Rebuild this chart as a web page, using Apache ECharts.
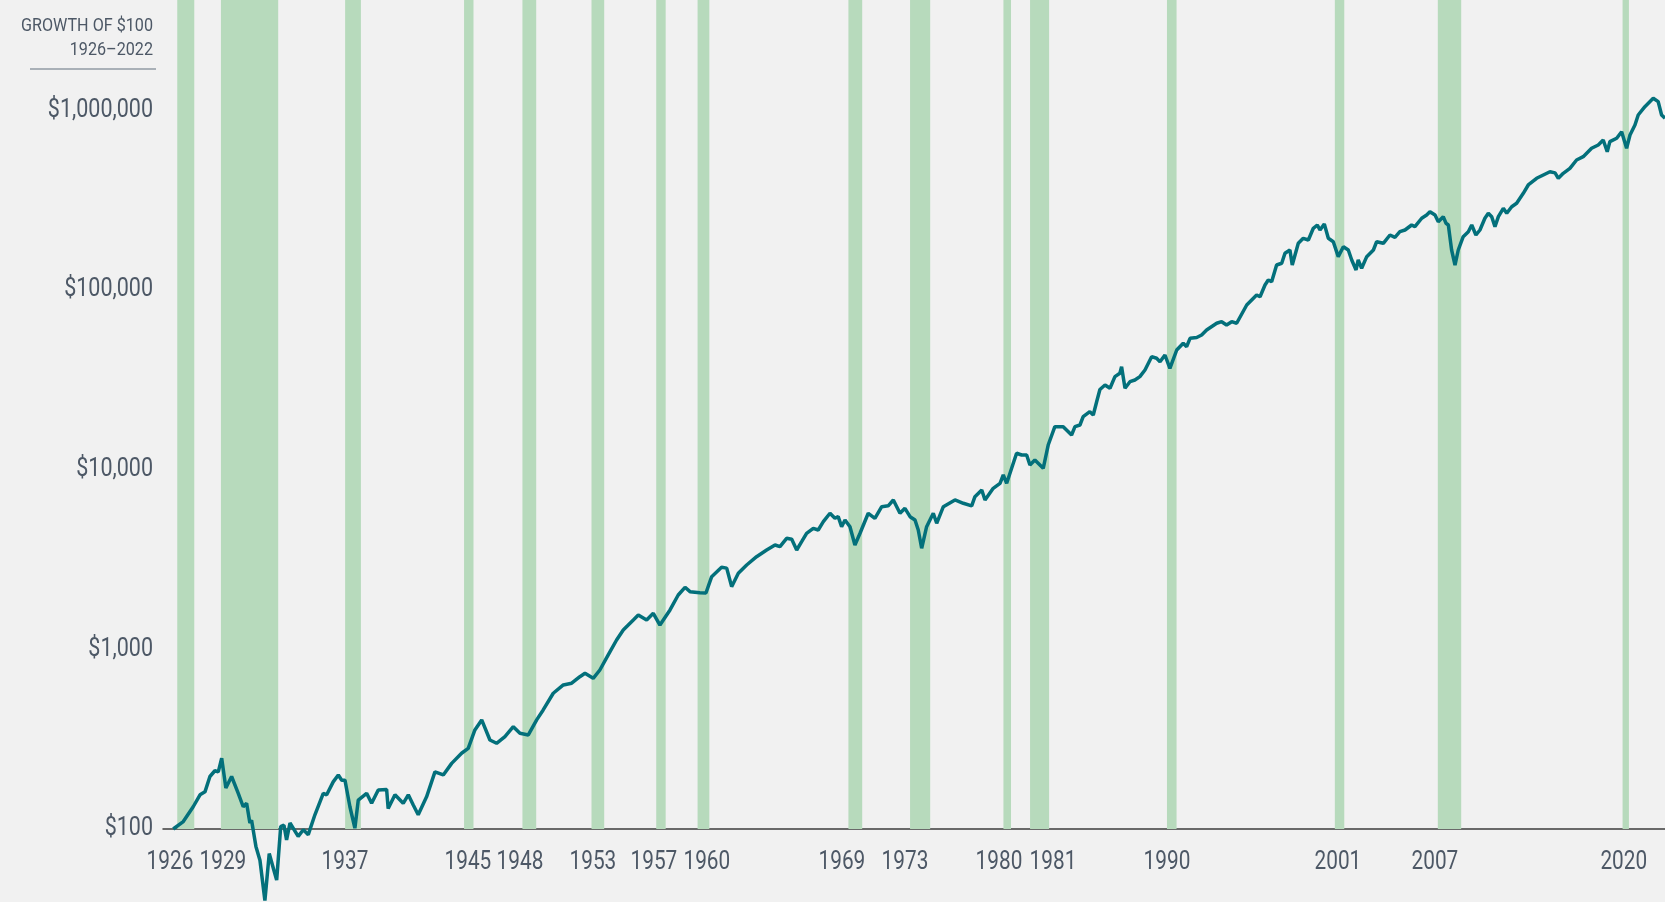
<!DOCTYPE html>
<html>
<head>
<meta charset="utf-8">
<script src="https://cdn.jsdelivr.net/npm/echarts@6/dist/echarts.min.js"></script>
<style>
  html, body { margin: 0; padding: 0; background: #f1f1f1; }
  #chart { width: 1665px; height: 902px; }
</style>
</head>
<body>
<div id="chart"></div>
<script>
// growth of $100 (decimal year, dollars)
const years = [
  1926.49, 1927.14, 1927.78, 1928.22, 1928.54, 1928.86, 1929.18, 1929.40, 1929.62, 1929.89,
  1930.26, 1930.69, 1931.01, 1931.23, 1931.44, 1931.55, 1931.83, 1932.09, 1932.41, 1932.69,
  1932.99, 1933.17, 1933.43, 1933.64, 1933.81, 1934.03, 1934.56, 1934.89, 1935.21, 1935.64,
  1936.18, 1936.40, 1936.82, 1937.15, 1937.37, 1937.58, 1937.90, 1938.22, 1938.44, 1938.98,
  1939.30, 1939.73, 1940.27, 1940.37, 1940.81, 1941.34, 1941.67, 1941.99, 1942.31, 1942.85,
  1943.39, 1943.93, 1944.47, 1945.11, 1945.54, 1945.97, 1946.41, 1946.94, 1947.37, 1947.91,
  1948.45, 1948.88, 1949.42, 1949.96, 1950.38, 1951.03, 1951.68, 1952.22, 1952.75, 1953.08,
  1953.61, 1954.04, 1954.58, 1955.12, 1955.55, 1956.20, 1956.52, 1957.06, 1957.49, 1957.92,
  1958.57, 1959.10, 1959.54, 1959.86, 1960.50, 1960.89, 1961.26, 1961.90, 1962.23, 1962.55,
  1962.98, 1963.52, 1964.16, 1964.81, 1965.35, 1965.67, 1966.10, 1966.43, 1966.75, 1967.07,
  1967.39, 1967.82, 1968.14, 1968.47, 1968.90, 1969.22, 1969.43, 1969.65, 1969.87, 1970.19,
  1970.51, 1970.84, 1971.37, 1971.80, 1972.24, 1972.66, 1972.99, 1973.42, 1973.74, 1974.07,
  1974.39, 1974.60, 1974.82, 1975.14, 1975.57, 1975.79, 1976.22, 1976.97, 1977.51, 1978.05,
  1978.26, 1978.70, 1978.91, 1979.44, 1979.88, 1980.09, 1980.31, 1980.95, 1981.28, 1981.60,
  1981.81, 1982.13, 1982.67, 1982.99, 1983.42, 1983.96, 1984.50, 1984.72, 1985.04, 1985.25,
  1985.68, 1985.90, 1986.12, 1986.33, 1986.66, 1986.98, 1987.30, 1987.62, 1987.73, 1987.95,
  1988.27, 1988.59, 1988.91, 1989.24, 1989.67, 1989.99, 1990.21, 1990.53, 1990.85, 1991.29,
  1991.71, 1991.93, 1992.15, 1992.58, 1992.90, 1993.22, 1993.87, 1994.19, 1994.51, 1994.84,
  1995.16, 1995.81, 1996.45, 1996.67, 1996.99, 1997.20, 1997.42, 1997.74, 1998.07, 1998.28,
  1998.60, 1998.75, 1999.14, 1999.46, 1999.79, 2000.11, 2000.37, 2000.54, 2000.82, 2001.08,
  2001.40, 2001.72, 2002.05, 2002.37, 2002.59, 2002.87, 2003.01, 2003.23, 2003.56, 2003.99,
  2004.20, 2004.63, 2005.06, 2005.38, 2005.70, 2006.03, 2006.46, 2006.67, 2007.11, 2007.43,
  2007.64, 2007.97, 2008.18, 2008.50, 2008.68, 2008.83, 2009.04, 2009.26, 2009.47, 2009.79,
  2010.12, 2010.34, 2010.61, 2010.87, 2011.19, 2011.41, 2011.63, 2011.84, 2012.06, 2012.38,
  2012.60, 2012.92, 2013.24, 2013.67, 2013.99, 2014.53, 2014.96, 2015.39, 2015.72, 2015.93,
  2016.25, 2016.68, 2017.11, 2017.54, 2018.08, 2018.51, 2018.83, 2019.09, 2019.26, 2019.70,
  2020.02, 2020.34, 2020.56, 2020.88, 2021.09, 2021.52, 2022.06, 2022.38, 2022.60, 2022.82
];
const values = [
  100, 110, 133, 155, 161, 196, 211, 208, 248, 169,
  196, 158, 133, 139, 108, 112, 80, 67, 40, 73,
  59, 52, 103, 105, 87, 108, 91, 99, 93, 120,
  158, 155, 183, 200, 187, 187, 133, 101, 145, 158,
  139, 165, 166, 130, 155, 139, 155, 136, 120, 151,
  208, 200, 232, 264, 281, 356, 405, 313, 300, 327,
  371, 341, 334, 405, 460, 570, 634, 648, 705, 736,
  690, 768, 931, 1128, 1282, 1458, 1554, 1458, 1589, 1367,
  1658, 2009, 2217, 2096, 2069, 2060, 2541, 2865, 2835, 2235,
  2653, 2951, 3282, 3577, 3814, 3731, 4155, 4100, 3577, 3978,
  4431, 4724, 4622, 5141, 5726, 5370, 5482, 4823, 5254, 4823,
  3814, 4431, 5726, 5370, 6231, 6300, 6790, 5726, 6105, 5482,
  5254, 4622, 3656, 4823, 5726, 5036, 6231, 6790, 6510, 6300,
  7086, 7718, 6790, 7888, 8411, 9355, 8411, 12360, 12090, 12090,
  10630, 11340, 10190, 13740, 17380, 17380, 15620, 17380, 17760, 19750,
  21060, 20190, 23940, 28000, 29660, 28430, 33000, 34460, 37510, 28430,
  30940, 31620, 33000, 35950, 42630, 41770, 39990, 43570, 36740, 46450,
  50620, 48460, 53970, 54500, 56310, 60030, 65430, 66780, 64010, 66780,
  65430, 82730, 94040, 92000, 106900, 114000, 111500, 138100, 141200, 160500,
  167400, 138100, 182400, 194500, 190300, 221100, 230700, 216400, 233700, 194500,
  186200, 153700, 174700, 167400, 147300, 129600, 147300, 132400, 153700, 167400,
  186200, 182400, 202900, 197000, 211700, 216400, 230700, 225800, 251500, 262300,
  273600, 262300, 240700, 256600, 235800, 230700, 167400, 138100, 167400, 198600,
  211700, 230700, 202900, 216400, 251500, 268000, 256600, 225800, 256600, 285800,
  268000, 291700, 304800, 346400, 385300, 419800, 437900, 456800, 450000, 419800,
  447500, 477200, 530800, 553800, 616600, 643500, 686100, 590400, 671300, 701300,
  763000, 616600, 731300, 831400, 945200, 1051000, 1171000, 1121000, 945200, 905900
];

// recession bands (start, end), as drawn in the picture
const recessionStart = [1926.75, 1929.57, 1937.59, 1945.27, 1949.04, 1953.50, 1957.68, 1960.35,
  1970.09, 1974.07, 1980.10, 1981.82, 1990.66, 2001.50, 2008.15, 2020.08];
const recessionEnd = [1927.85, 1933.27, 1938.61, 1945.88, 1949.93, 1954.32, 1958.29, 1961.11,
  1970.98, 1975.37, 1980.59, 1983.05, 1991.28, 2002.11, 2009.66, 2020.49];

// x-axis year labels and where they sit on the axis
const tickText = ['1926', '1929', '1937', '1945', '1948', '1953', '1957', '1960',
  '1969', '1973', '1980', '1981', '1990', '2001', '2007', '2020'];
const tickAt = [1926.28, 1929.70, 1937.58, 1945.52, 1948.88, 1953.59, 1957.53, 1960.95,
  1969.67, 1973.74, 1979.81, 1983.30, 1990.66, 2001.70, 2007.96, 2020.16];

// y-axis ticks
const yTicks = [100, 1000, 10000, 100000, 1000000];

const textColor = '#4d5866';
const font = "Roboto, 'Liberation Sans', sans-serif";

const chart = echarts.init(document.getElementById('chart'));

chart.setOption({
  backgroundColor: '#f1f1f1',
  animation: false,
  grid: { left: 163, right: 0, top: 0, bottom: 73, containLabel: false },
  xAxis: {
    type: 'value',
    min: 1925.83,
    max: 2022.82,
    axisLine: { show: true, lineStyle: { color: '#3c3c3c', width: 1.5 } },
    axisTick: { show: false },
    splitLine: { show: false },
    axisLabel: { show: false }
  },
  yAxis: {
    type: 'log',
    logBase: 10,
    min: 100,
    max: 4128000,
    axisLine: { show: false },
    axisTick: { show: false },
    splitLine: { show: false },
    axisLabel: { show: false }
  },
  series: [{
    type: 'line',
    data: years.map(function (t, i) { return [t, values[i]]; }),
    showSymbol: false,
    clip: false,
    lineStyle: { color: '#03707b', width: 3.5 },
    markArea: {
      silent: true,
      itemStyle: { color: '#b7dabc' },
      data: recessionStart.map(function (s, i) { return [{ xAxis: s }, { xAxis: recessionEnd[i] }]; })
    }
  }]
});

// labels set in a narrow face: place them through the axes, squeezed horizontally
function px(t, v) { return chart.convertToPixel({ gridIndex: 0 }, [t, v]); }
const xMin = 1925.83;
const graphics = [];
tickAt.forEach(function (t, i) {
  const p = px(t, 100);
  graphics.push({ type: 'text', x: p[0], y: p[1] + 33, scaleX: 0.8, silent: true,
    style: { text: tickText[i], align: 'center', verticalAlign: 'middle', fill: textColor, font: '26px ' + font } });
});
yTicks.forEach(function (v) {
  const p = px(xMin, v);
  graphics.push({ type: 'text', x: p[0] - 10, y: p[1], scaleX: 0.86, silent: true,
    style: { text: '$' + v.toLocaleString('en-US'), align: 'right', verticalAlign: 'middle', fill: textColor, font: '25px ' + font } });
});
graphics.push(
  { type: 'text', x: 153, y: 26, scaleX: 0.85, silent: true,
    style: { text: 'GROWTH OF $100', align: 'right', verticalAlign: 'middle', fill: textColor, font: '19px ' + font } },
  { type: 'text', x: 153, y: 50, scaleX: 0.85, silent: true,
    style: { text: '1926–2022', align: 'right', verticalAlign: 'middle', fill: textColor, font: '19px ' + font } },
  { type: 'rect', silent: true, shape: { x: 30, y: 68, width: 126, height: 2 }, style: { fill: '#a9b0b7' } }
);
chart.setOption({ graphic: graphics });
</script>
</body>
</html>
